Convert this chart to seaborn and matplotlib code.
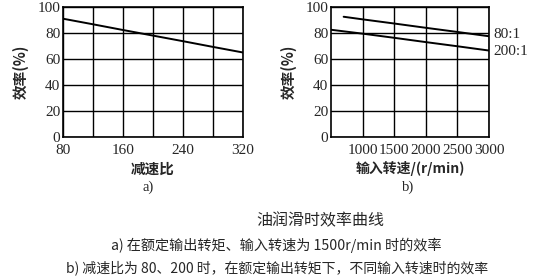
import matplotlib
matplotlib.use("Agg")
import matplotlib.pyplot as plt
import seaborn as sns
import pandas as pd

sns.set_theme(style="white")
plt.rcParams['font.family'] = ['Liberation Serif', 'Noto Sans CJK SC']

# Panel a: efficiency vs reduction ratio
ratio = [80, 120, 160, 200, 240, 280, 320]
eff_ratio = [91, 86.7, 82.3, 78, 73.7, 69.3, 65]

# Panel b: efficiency vs input speed
speed_80 = [700, 1000, 1500, 2000, 2500, 3000]
eff_80 = [92.5, 90.5, 87.3, 84, 80.8, 77.5]
speed_200 = [500, 1000, 1500, 2000, 2500, 3000]
eff_200 = [82.5, 79.5, 76.3, 73, 69.8, 66.5]
series_labels = ["80:1", "200:1"]

a_xticks = [80, 160, 240, 320]
a_grid = [120, 200, 280]
b_xticks = [1000, 1500, 2000, 2500, 3000]
yticks = [0, 20, 40, 60, 80, 100]

title = "油润滑时效率曲线"
cap_a = "a) 在额定输出转矩、输入转速为 1500r/min 时的效率"
cap_b = "b) 减速比为 80、200 时，在额定输出转矩下，不同输入转速时的效率"

W, H = 552, 280
fig = plt.figure(figsize=(W / 100, H / 100), dpi=100)

def px_axes(l, t, r, b):
    return fig.add_axes([l / W, 1 - b / H, (r - l) / W, (b - t) / H])

ax1 = px_axes(63, 7, 243, 137)
ax2 = px_axes(331, 7, 489, 137)

df_a = pd.DataFrame({"x": ratio, "y": eff_ratio})
sns.lineplot(data=df_a, x="x", y="y", ax=ax1, color="black", linewidth=1.4)

df_b = pd.concat([
    pd.DataFrame({"x": speed_80, "y": eff_80, "s": series_labels[0]}),
    pd.DataFrame({"x": speed_200, "y": eff_200, "s": series_labels[1]}),
])
sns.lineplot(data=df_b, x="x", y="y", hue="s", ax=ax2,
             palette=["black", "black"], linewidth=1.4, legend=False)

cjk = ['Noto Sans CJK SC', 'Liberation Serif']
num = ['Liberation Serif', 'Noto Sans CJK SC']

for ax in (ax1, ax2):
    ax.set_ylim(0, 100)
    ax.set_yticks(yticks)
    ax.grid(True, which="both", color="black", linewidth=1.0)
    ax.tick_params(axis="y", length=0, labelsize=11, pad=2)
    ax.tick_params(axis="x", which="both", length=0, labelsize=11, pad=5)
    for s in ax.spines.values():
        s.set_color("black")
        s.set_linewidth(1.2)
    ax.set_axisbelow(True)

ax1.set_xlim(80, 320)
ax1.set_xticks(a_xticks)
ax1.set_xticks(a_grid, minor=True)
ax2.set_xlim(500, 3000)
ax2.set_xticks(b_xticks)
for ax in (ax1, ax2):
    for lab in ax.get_xticklabels() + ax.get_yticklabels():
        lab.set_family(num)

ax1.set_xlabel("减速比", family=cjk, fontsize=10.5, fontweight="bold", labelpad=3)
ax2.set_xlabel("输入转速/(r/min)", family=cjk, fontsize=10, fontweight="bold", labelpad=3)
ax1.set_ylabel("效率(%)", family=cjk, fontsize=10.5, fontweight="bold", labelpad=6)
ax2.set_ylabel("效率(%)", family=cjk, fontsize=10.5, fontweight="bold", labelpad=6)

ax2.text(3070, 78.5, series_labels[0], family=num, fontsize=11, va="center", ha="left", clip_on=False)
ax2.text(3070, 65.5, series_labels[1], family=num, fontsize=11, va="center", ha="left", clip_on=False)

fig.text(148 / W, 1 - 187 / H, "a)", family=num, fontsize=10.5, ha="center", va="center")
fig.text(408 / W, 1 - 187 / H, "b)", family=num, fontsize=10.5, ha="center", va="center")

fig.text(320 / W, 1 - 221 / H, title, family=cjk, fontsize=11.5, ha="center", va="center")
fig.text(276 / W, 1 - 245 / H, cap_a, family=cjk, fontsize=10.2, ha="center", va="center")
fig.text(277 / W, 1 - 268 / H, cap_b, family=cjk, fontsize=10, ha="center", va="center")

fig.savefig("out.png", dpi=100, facecolor="white")
